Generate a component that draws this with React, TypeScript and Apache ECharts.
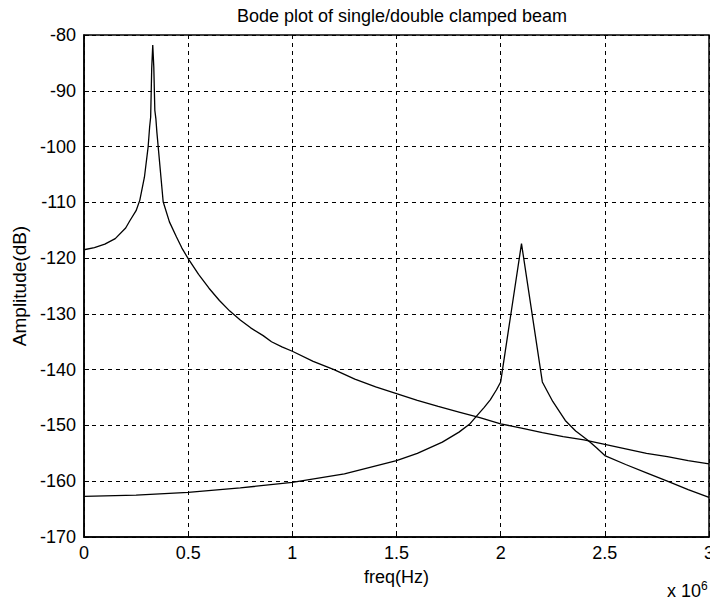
import React, { useEffect, useRef } from "react";
import * as echarts from "echarts";

// Frequency in units of 10^6 Hz (as shown on the axis)
const singleFreq = [0, 0.05, 0.1, 0.15, 0.2, 0.22, 0.25, 0.268, 0.29, 0.308, 0.315, 0.32, 0.325, 0.33, 0.335, 0.34, 0.345, 0.35, 0.356, 0.38, 0.41, 0.444, 0.47, 0.5, 0.55, 0.6, 0.65, 0.7, 0.75, 0.8, 0.86, 0.9, 0.95, 1.0, 1.1, 1.2, 1.3, 1.4, 1.5, 1.6, 1.7, 1.8, 1.9, 2.0, 2.1, 2.2, 2.3, 2.4, 2.5, 2.6, 2.7, 2.8, 2.9, 3.0];
const singleAmp = [-118.5, -118.1, -117.5, -116.5, -114.6, -113.3, -111.5, -109.6, -105.5, -100, -96.5, -94.7, -86, -81.8, -85.7, -93.5, -95, -97.5, -100, -109.9, -113.5, -116.2, -118.2, -120.1, -122.9, -125.4, -127.6, -129.5, -131.1, -132.5, -133.9, -135.0, -135.9, -136.7, -138.5, -140.0, -141.7, -143.1, -144.3, -145.5, -146.6, -147.6, -148.6, -149.7, -150.5, -151.3, -152.0, -152.6, -153.4, -154.2, -155.0, -155.6, -156.3, -156.9];

const doubleFreq = [0, 0.25, 0.5, 0.75, 1.0, 1.25, 1.5, 1.6, 1.72, 1.8, 1.85, 1.88, 1.92, 1.95, 1.98, 2.0, 2.1, 2.2, 2.25, 2.31, 2.36, 2.42, 2.46, 2.5, 2.6, 2.7, 2.8, 2.9, 3.0];
const doubleAmp = [-162.7, -162.5, -162.0, -161.2, -160.2, -158.7, -156.3, -155.0, -153.0, -151.2, -149.8, -148.5, -146.8, -145.4, -143.6, -142.2, -117.4, -142.2, -145.7, -149.1, -151.0, -152.7, -154.0, -155.4, -157.0, -158.5, -160.0, -161.5, -162.9];

const xTicks = { min: 0, max: 3, interval: 0.5 };
const yTicks = { min: -170, max: -80, interval: 10 };

const titleText = "Bode plot of single/double clamped beam";
const xName = "freq(Hz)";
const yName = "Amplitude(dB)";

const FONT = "'Liberation Sans', Arial, Helvetica, sans-serif";

export default function App() {
  const ref = useRef<HTMLDivElement>(null);
  useEffect(() => {
    if (!ref.current) return;
    const chart = echarts.init(ref.current, null, { renderer: "svg" });
    const pairs = (xs: number[], ys: number[]) => xs.map((x, i) => [x, ys[i]]);
    const gridDash = { color: "#000", type: [4, 4] as any, width: 1 };
    chart.setOption({
      animation: false,
      backgroundColor: "#fff",
      textStyle: { fontFamily: FONT, color: "#000" },
      title: {
        text: titleText,
        left: 397,
        textAlign: "center",
        top: 2,
        textStyle: { fontFamily: FONT, fontSize: 18, fontWeight: "normal", color: "#000" },
      },
      grid: {
        left: 84, right: 1, top: 35, bottom: 63,
        containLabel: false,
        outerBoundsMode: "none",
        show: true, borderColor: "#000", borderWidth: 1.5, backgroundColor: "transparent",
      },
      xAxis: {
        type: "value",
        min: xTicks.min,
        max: xTicks.max,
        interval: xTicks.interval,
        name: xName,
        nameLocation: "middle",
        nameGap: 31,
        nameTextStyle: { fontFamily: FONT, fontSize: 18, color: "#000" },
        axisLine: { show: true, lineStyle: { color: "#000", width: 1.5 } },
        axisTick: { show: true, inside: true, length: 5, lineStyle: { color: "#000" } },
        axisLabel: { fontFamily: FONT, fontSize: 18, color: "#000", margin: 7, formatter: (v: number) => String(v) },
        splitLine: { show: true, lineStyle: gridDash },
      },
      yAxis: {
        type: "value",
        min: yTicks.min,
        max: yTicks.max,
        interval: yTicks.interval,
        name: yName,
        nameLocation: "middle",
        nameGap: 54,
        nameRotate: 90,
        nameTextStyle: { fontFamily: FONT, fontSize: 19, color: "#000" },
        axisLine: { show: true, lineStyle: { color: "#000", width: 1.5 } },
        axisTick: { show: true, inside: true, length: 5, lineStyle: { color: "#000" } },
        axisLabel: { fontFamily: FONT, fontSize: 18, color: "#000", margin: 8 },
        splitLine: { show: true, lineStyle: gridDash },
      },
      graphic: [
        {
          type: "text",
          left: 667,
          top: 580,
          style: {
            text: "x 10{sup|6}",
            fontFamily: FONT,
            fontSize: 18,
            fill: "#000",
            rich: { sup: { fontSize: 12, verticalAlign: "top", padding: [0, 0, 10, 0], fontFamily: FONT } },
          },
        },
      ],
      series: [
        {
          type: "line",
          data: pairs(singleFreq, singleAmp),
          showSymbol: false,
          lineStyle: { color: "#000", width: 1.3 },
          z: 5,
        },
        {
          type: "line",
          data: pairs(doubleFreq, doubleAmp),
          showSymbol: false,
          lineStyle: { color: "#000", width: 1.3 },
          z: 5,
        },
      ],
    });
    return () => chart.dispose();
  }, []);
  return <div ref={ref} style={{ position: "fixed", left: 0, top: 0, width: 710, height: 600 }} />;
}
